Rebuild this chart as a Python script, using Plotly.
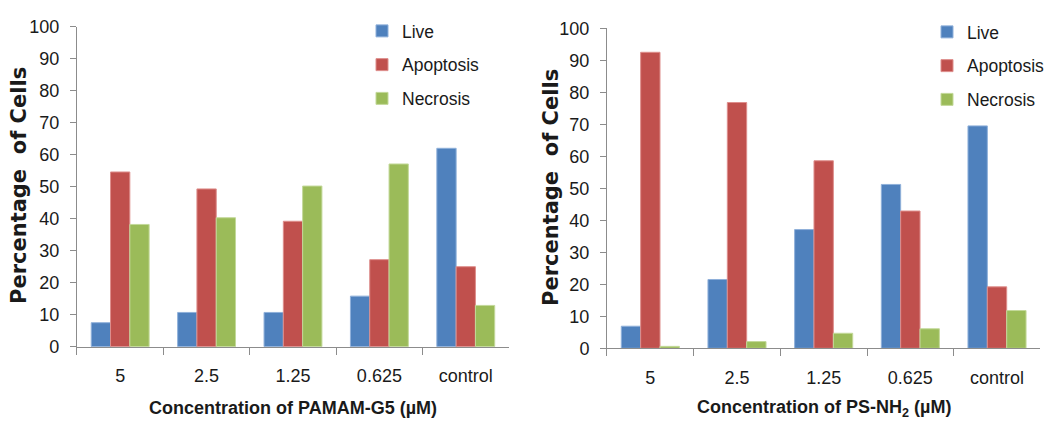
import plotly.graph_objects as go

# Cell-fate percentages by concentration
categories = ["5", "2.5", "1.25", "0.625", "control"]

pamam_live = [7.5, 10.7, 10.7, 15.8, 62.0]
pamam_apoptosis = [54.6, 49.3, 39.2, 27.2, 25.0]
pamam_necrosis = [38.2, 40.3, 50.2, 57.1, 12.9]

psnh2_live = [6.9, 21.5, 37.1, 51.2, 69.5]
psnh2_apoptosis = [92.5, 76.8, 58.6, 42.9, 19.2]
psnh2_necrosis = [0.6, 2.1, 4.7, 6.1, 11.8]

series_names = ["Live", "Apoptosis", "Necrosis"]
colors = ["#4F81BD", "#C0504D", "#9BBB59"]
edges = ["#8FB0DA", "#DE8E8C", "#C3D99A"]

y_ticks = list(range(0, 101, 10))

SANS = "Liberation Sans, Arial, sans-serif"
WIDE = "DejaVu Sans, Verdana, sans-serif"
TEXT = "#1a1a1a"
AXIS = "#8c8c8c"

fig = go.Figure()

panels = [
    ("x", "y", "legend", [pamam_live, pamam_apoptosis, pamam_necrosis]),
    ("x2", "y2", "legend2", [psnh2_live, psnh2_apoptosis, psnh2_necrosis]),
]
for xa, ya, lg, values in panels:
    for i, (name, vals) in enumerate(zip(series_names, values)):
        fig.add_trace(go.Bar(
            x=categories, y=vals, name=name,
            xaxis=xa, yaxis=ya, legend=lg, legendgroup=f"{lg}-{name}",
            marker=dict(color=colors[i], line=dict(color=edges[i], width=1)),
        ))

xaxis_style = dict(
    type="category", showline=True, linecolor=AXIS, linewidth=1,
    ticks="outside", tickson="boundaries", ticklen=7, tickcolor=AXIS,
    tickfont=dict(family=SANS, size=18, color=TEXT),
    ticklabelstandoff=13, showgrid=False, zeroline=False, fixedrange=True,
)
yaxis_style = dict(
    range=[0, 100], tickvals=y_ticks, showline=True, linecolor=AXIS,
    linewidth=1, ticks="outside", ticklen=6, tickcolor=AXIS,
    tickfont=dict(family=SANS, size=18, color=TEXT),
    ticklabelstandoff=7, showgrid=False, zeroline=False, fixedrange=True,
)

legend_style = dict(
    font=dict(family=SANS, size=17.5, color=TEXT),
    tracegroupgap=8, itemwidth=30, bgcolor="rgba(0,0,0,0)",
    xanchor="left", yanchor="top", itemclick=False, itemdoubleclick=False,
)

axis_title_font = dict(family=SANS, size=18, color=TEXT, weight="bold")
y_title_font = dict(family=WIDE, size=21, color=TEXT, weight="bold")

fig.update_layout(
    width=1046, height=421,
    margin=dict(l=0, r=0, t=0, b=0, autoexpand=False),
    paper_bgcolor="white", plot_bgcolor="white",
    barmode="group", bargap=0.33, bargroupgap=0,
    showlegend=True,
    xaxis=dict(domain=[0.0736, 0.4866], anchor="y", **xaxis_style),
    yaxis=dict(domain=[0.1765, 0.9366], anchor="x", **yaxis_style),
    xaxis2=dict(domain=[0.5803, 0.9946], anchor="y2", **xaxis_style),
    yaxis2=dict(domain=[0.1727, 0.9328], anchor="x2", **yaxis_style),
    legend=dict(x=362 / 1046, y=1 - 13 / 421, **legend_style),
    legend2=dict(x=927 / 1046, y=1 - 14 / 421, **legend_style),
    annotations=[
        dict(text="Concentration of PAMAM-G5 (µM)", x=293 / 1046, y=1 - 408 / 421,
             xref="paper", yref="paper", xanchor="center", yanchor="middle",
             showarrow=False, font=axis_title_font),
        dict(text="Concentration of PS-NH<sub>2</sub> (µM)", x=824 / 1046, y=1 - 408 / 421,
             xref="paper", yref="paper", xanchor="center", yanchor="middle",
             showarrow=False, font=axis_title_font),
        dict(text="Percentage  of Cells", x=19 / 1046, y=1 - 186 / 421,
             xref="paper", yref="paper", xanchor="center", yanchor="middle",
             showarrow=False, textangle=-90, font=y_title_font),
        dict(text="Percentage  of Cells", x=551 / 1046, y=1 - 188 / 421,
             xref="paper", yref="paper", xanchor="center", yanchor="middle",
             showarrow=False, textangle=-90, font=y_title_font),
    ],
)

fig.write_html("out.html")
